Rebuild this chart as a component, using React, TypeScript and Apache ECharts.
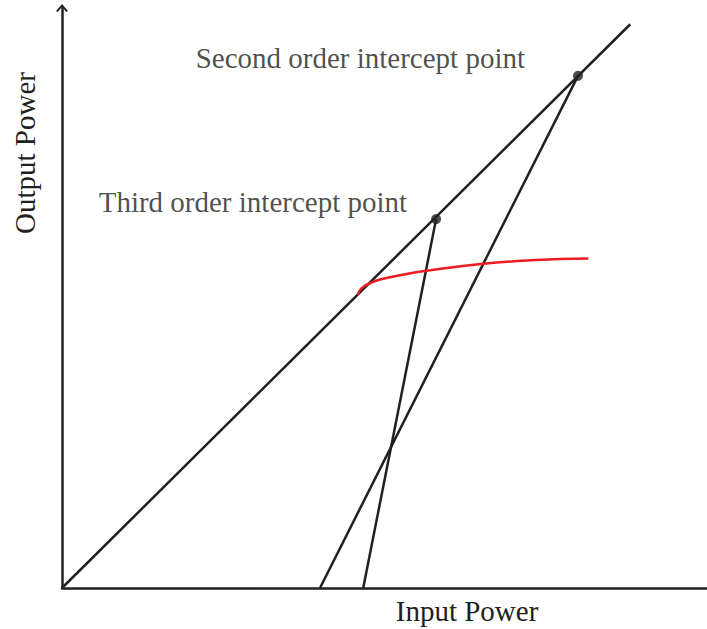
import React, { useEffect, useRef } from "react";
import * as echarts from "echarts";

// Data in arbitrary power units (x: input, y: output)
const fundamental: number[][] = [[0, 0], [88.1, 97.2]];
const secondOrder: number[][] = [[40.0, 0], [80.0, 88.3]];
const thirdOrder: number[][] = [[46.7, 0], [58.0, 63.6]];
const compression: number[][] = [
  [45.8, 50.5], [46.4, 51.6], [47.4, 52.4], [49.3, 53.2], [52.8, 54.0], [56.5, 54.7],
  [65.3, 55.9], [72.6, 56.5], [81.6, 56.8],
];
const interceptNames: string[] = ["Third order intercept point", "Second order intercept point"];
const interceptPoints: number[][] = [[58.0, 63.6], [80.0, 88.3]];

const INK = "#231f20";
const FONT = "Liberation Serif, Times New Roman, serif";
const FS = 29;

export default function App() {
  const ref = useRef<HTMLDivElement>(null);
  useEffect(() => {
    if (!ref.current) return;
    const chart = echarts.init(ref.current, undefined, { renderer: "svg" });
    const lineStyle = { color: INK, width: 2.5 };
    chart.setOption({
      animation: false,
      backgroundColor: "#ffffff",
      grid: { left: 62, right: 0, top: 8, bottom: 41 },
      xAxis: {
        type: "value", min: 0, max: 100,
        axisLine: { show: true, lineStyle: { color: INK, width: 2.5 } },
        axisTick: { show: false }, axisLabel: { show: false }, splitLine: { show: false },
      },
      yAxis: {
        type: "value", min: 0, max: 100,
        axisLine: {
          show: true, lineStyle: { color: INK, width: 2.5 },
          symbol: ["none", "path://M0,7 L6,0 L12,7 L10.4,8 L6,3 L1.6,8 Z"],
          symbolSize: [12, 8],
        },
        axisTick: { show: false }, axisLabel: { show: false }, splitLine: { show: false },
      },
      series: [
        { type: "line", data: fundamental, symbol: "none", lineStyle },
        { type: "line", data: secondOrder, symbol: "none", lineStyle },
        { type: "line", data: thirdOrder, symbol: "none", lineStyle },
        {
          type: "line", data: compression, symbol: "none", smooth: 0.5,
          lineStyle: { color: "#ed1c24", width: 2.5 },
        },
        {
          type: "scatter", symbolSize: 10, itemStyle: { color: INK },
          data: interceptPoints.map((p, i) => ({
            value: p,
            name: interceptNames[i],
            label: {
              show: true, position: "left",
              distance: i === 0 ? 24 : 48,
              offset: [0, i === 0 ? -17 : -18],
              formatter: interceptNames[i],
              fontFamily: FONT, fontSize: FS, color: INK,
            },
          })),
        },
      ],
      graphic: [
        {
          type: "text", x: 467, y: 611,
          style: { text: "Input Power", fontFamily: FONT, fontSize: FS, fill: INK, textAlign: "center", textVerticalAlign: "middle" },
        },
        {
          type: "text", x: 25, y: 153, rotation: Math.PI / 2,
          style: { text: "Output Power", fontFamily: FONT, fontSize: FS, fill: INK, textAlign: "center", textVerticalAlign: "middle" },
        },
      ],
    });
    return () => chart.dispose();
  }, []);
  return <div ref={ref} style={{ width: 707, height: 629, position: "absolute", left: 0, top: 0 }} />;
}
